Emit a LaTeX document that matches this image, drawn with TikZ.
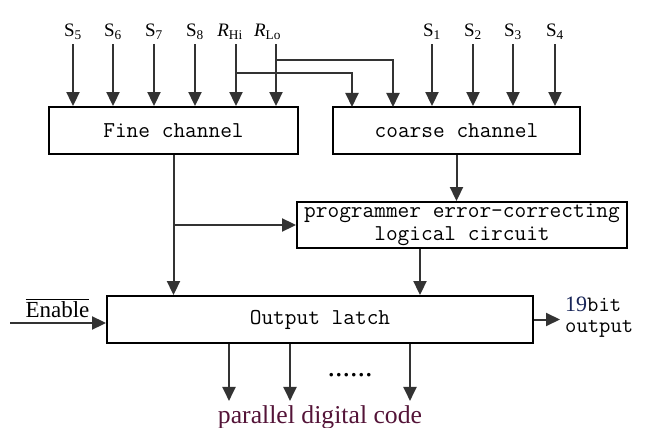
\documentclass[tikz,border=0pt]{standalone}
\usepackage{fontspec}
\setmainfont{Liberation Serif}
\usetikzlibrary{arrows.meta}
\definecolor{codered}{rgb}{0.33,0.08,0.22}
\definecolor{bitblue}{rgb}{0.1,0.15,0.35}
\tikzstyle{block} = [rectangle, draw, line width=1.9pt, inner sep=0pt, align=center, font=\fontsize{22.7}{23}\selectfont\ttfamily]
\tikzstyle{sig} = [anchor=base, inner sep=4.5pt, font=\fontsize{19}{22}\selectfont]
\tikzstyle{wire} = [->, draw=black!80, line width=2pt]

\begin{document}
\begin{tikzpicture}[x=1pt, y=-1pt, >={Triangle[length=14pt,width=13pt]}]
    \useasboundingbox (0,0) rectangle (646,428);

    % blocks
    \node[block, minimum width=249pt, minimum height=47pt] (fine) at (173.5,130.5) {Fine channel};
    \node[block, minimum width=247pt, minimum height=47pt] (coarse) at (456.5,130.5) {coarse channel};
    \node[block, minimum width=330pt, minimum height=46pt] (prog) at (462,225) {programmer error-correcting\\logical circuit};
    \node[block, minimum width=426pt, minimum height=47pt] (latch) at (320,319.5) {Output latch};

    % inputs of the fine channel
    \node[sig] (s5) at (73,36.5) {S\textsubscript{5}};
    \node[sig] (s6) at (113,36.5) {S\textsubscript{6}};
    \node[sig] (s7) at (154,36.5) {S\textsubscript{7}};
    \node[sig] (s8) at (195,36.5) {S\textsubscript{8}};
    \node[sig] (rhi) at (230,36.5) {\textit{R}\textsubscript{Hi}};
    \node[sig] (rlo) at (267.5,36.5) {\textit{R}\textsubscript{Lo}};
    \draw[wire] (s5.south) -- (s5.south |- fine.north);
    \draw[wire] (s6.south) -- (s6.south |- fine.north);
    \draw[wire] (s7.south) -- (s7.south |- fine.north);
    \draw[wire] (s8.south) -- (s8.south |- fine.north);
    \draw[wire] ([xshift=6pt]rhi.south) -- ([xshift=6pt]rhi.south |- fine.north);
    \draw[wire] ([xshift=8.5pt]rlo.south) -- ([xshift=8.5pt]rlo.south |- fine.north);

    % inputs of the coarse channel
    \node[sig] (s1) at (432,36.5) {S\textsubscript{1}};
    \node[sig] (s2) at (473,36.5) {S\textsubscript{2}};
    \node[sig] (s3) at (513,36.5) {S\textsubscript{3}};
    \node[sig] (s4) at (555,36.5) {S\textsubscript{4}};
    \draw[wire] (s1.south) -- (s1.south |- coarse.north);
    \draw[wire] (s2.south) -- (s2.south |- coarse.north);
    \draw[wire] (s3.south) -- (s3.south |- coarse.north);
    \draw[wire] (s4.south) -- (s4.south |- coarse.north);

    % reference lines also go to the coarse channel
    \coordinate (hisplit) at (236,73);
    \coordinate (losplit) at (276,60);
    \coordinate (hiin) at (352,107);
    \coordinate (loin) at (393,107);
    \draw[wire] (hisplit) -| (hiin);
    \draw[wire] (losplit) -| (loin);

    % channels to the latch
    \draw[wire] (fine.south) -- (fine.south |- latch.north);
    \draw[wire] (fine.south |- prog.west) -- (prog.west);
    \draw[wire] (coarse.south) -- (coarse.south |- prog.north);
    \draw[wire] ([xshift=-42pt]prog.south) -- ([xshift=-42pt]prog.south |- latch.north);

    % enable
    \coordinate (enin) at (10,323);
    \node[anchor=base, font=\fontsize{23}{25}\selectfont] (enable) at (57.5,317) {$\overline{\mbox{Enable}}$};
    \draw[wire] (enin) -- (enin -| latch.west);

    % outputs
    \coordinate (outend) at (560,319.5);
    \draw[wire] (latch.east) -- (outend);
    \node[anchor=north west, inner sep=0pt, align=left, font=\fontsize{22}{21}\selectfont\ttfamily] (bits) at (565,297) {{\rmfamily\color{bitblue}19}bit\\output};
    \draw[wire] ([xshift=-91pt]latch.south) -- ++(0,57);
    \draw[wire] ([xshift=-30pt]latch.south) -- ++(0,57);
    \draw[wire] ([xshift=90pt]latch.south) -- ++(0,57);
    \node[anchor=base, font=\fontsize{30}{32}\selectfont] (dots) at (350,376) {......};
    \node[anchor=base, text=codered, font=\fontsize{25.7}{28}\selectfont] (code) at (320,423) {parallel digital code};
\end{tikzpicture}
\end{document}
